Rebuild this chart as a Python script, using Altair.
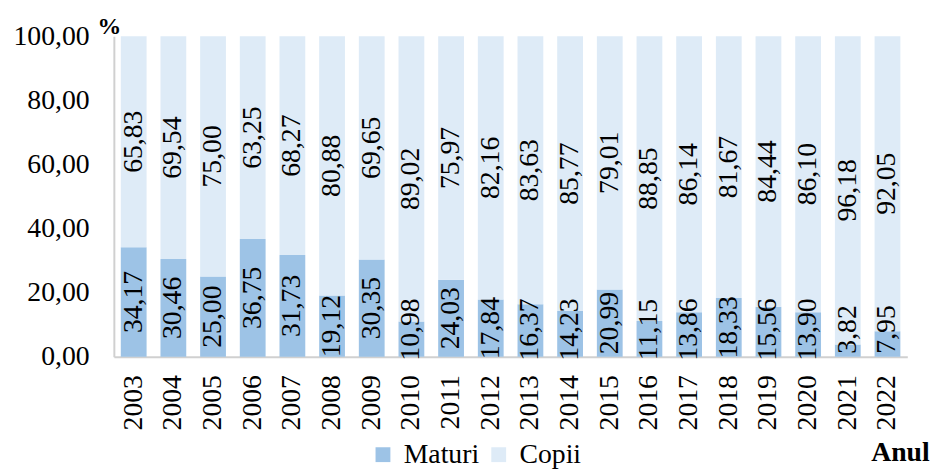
import altair as alt
import pandas as pd

years = [str(y) for y in range(2003, 2023)]
maturi = [34.17, 30.46, 25.00, 36.75, 31.73, 19.12, 30.35, 10.98, 24.03, 17.84,
          16.37, 14.23, 20.99, 11.15, 13.86, 18.33, 15.56, 13.90, 3.82, 7.95]
copii = [65.83, 69.54, 75.00, 63.25, 68.27, 80.88, 69.65, 89.02, 75.97, 82.16,
         83.63, 85.77, 79.01, 88.85, 86.14, 81.67, 84.44, 86.10, 96.18, 92.05]
series = ["Maturi", "Copii"]
colors = ["#9DC3E6", "#DEEBF7"]
y_ticks = [0, 20, 40, 60, 80, 100]

FONT = "Liberation Serif"
FS = 28

rows = []
for yr, m, c in zip(years, maturi, copii):
    rows.append({"year": yr, "grp": "Maturi", "ord": 0, "value": m,
                 "labelY": max(m / 2, 8.5), "label": f"{m:.2f}".replace(".", ",")})
    rows.append({"year": yr, "grp": "Copii", "ord": 1, "value": c,
                 "labelY": m + c / 2, "label": f"{c:.2f}".replace(".", ",")})
df = pd.DataFrame(rows)

xenc = alt.X("year:N", sort=years,
             scale=alt.Scale(paddingInner=0.35, paddingOuter=0.175),
             axis=alt.Axis(title="Anul", labelAngle=-90, labelPadding=18,
                           ticks=False, grid=False,
                           domainColor="#D0D0D0", domainWidth=2,
                           labelFont=FONT, labelFontSize=FS, labelColor="black",
                           titleFont=FONT, titleFontSize=FS, titleFontWeight="bold",
                           titleColor="black", titleAlign="left",
                           titleBaseline="alphabetic", titleX=765, titleY=105,
                           titleAnchor="start"))

bars = alt.Chart(df).mark_bar().encode(
    x=xenc,
    y=alt.Y("value:Q", stack="zero",
            scale=alt.Scale(domain=[0, 100], nice=False),
            axis=alt.Axis(values=y_ticks, title="%", titleAngle=0,
                          titleFont=FONT, titleFontSize=24, titleFontWeight="bold",
                          titleColor="black", titleAlign="center",
                          titleBaseline="middle", titleX=-5, titleY=-10,
                          labelExpr="replace(format(datum.value, '.2f'), '.', ',')",
                          labelFont=FONT, labelFontSize=FS, labelColor="black",
                          labelPadding=25, ticks=False, grid=False,
                          domainColor="#D0D0D0", domainWidth=2)),
    color=alt.Color("grp:N",
                    scale=alt.Scale(domain=series, range=colors),
                    legend=alt.Legend(title=None, orient="none", direction="horizontal",
                                      legendX=258, legendY=409,
                                      symbolType="square", symbolSize=225,
                                      symbolStrokeWidth=0, symbolOpacity=1,
                                      labelFont=FONT, labelFontSize=FS,
                                      labelColor="black", labelOffset=7,
                                      columnPadding=5, padding=0)),
    order=alt.Order("ord:Q"),
)

labels = alt.Chart(df).mark_text(angle=270, font=FONT, fontSize=FS, color="black",
                                 align="center", baseline="middle").encode(
    x=alt.X("year:N", sort=years),
    y=alt.Y("labelY:Q", stack=None),
    text="label:N",
)

chart = (bars + labels).properties(
    width=802, height=324,
    autosize=alt.AutoSizeParams(type="none"),
    padding={"left": 107, "top": 26, "right": 29, "bottom": 112},
).configure_view(stroke=None)

chart.save("out.html", embed_options={"renderer": "svg", "actions": False})
